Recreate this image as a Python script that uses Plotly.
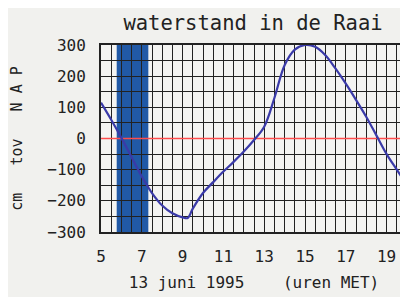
import plotly.graph_objects as go

hours = [5, 5.5, 6, 6.5, 7, 7.5, 8, 8.5, 9, 9.25, 9.5, 10, 10.5, 11, 11.5, 12, 12.5, 13, 13.5, 14, 14.5, 15, 15.5, 16, 16.5, 17, 17.5, 18, 18.5, 19, 19.5, 20]
level = [115, 60, 2, -60, -122, -175, -215, -240, -253, -255, -225, -175, -140, -106, -75, -42, -5, 38, 130, 235, 285, 300, 294, 267, 224, 176, 124, 70, 10, -50, -100, -149]
band = [5.77, 7.32]

font = "DejaVu Sans Mono"
fig = go.Figure()
fig.add_trace(go.Scatter(x=hours, y=level, mode="lines", line=dict(color="#3a3aa8", width=2.2, shape="spline"), showlegend=False))
fig.add_shape(type="rect", x0=band[0], x1=band[1], y0=-300, y1=300, xref="x", yref="y",
              fillcolor="#2159a6", line_width=0, layer="below")
fig.add_shape(type="line", x0=5, x1=20, y0=0, y1=0, xref="x", yref="y",
              line=dict(color="#ff4d4d", width=1.5), layer="between")

# page body has an 8px margin, so the figure is offset by 8px
fig.update_layout(
    width=400, height=289,
    margin=dict(l=93, r=1, t=37, b=65),
    paper_bgcolor="#f1f1ee", plot_bgcolor="#f4f4f2",
    title=dict(text="waterstand in de Raai", x=0.6125, xanchor="center", y=0.95, yanchor="middle",
               font=dict(family=font, size=20.5, color="#222")),
    font=dict(family=font, size=16, color="#222"),
)
fig.update_xaxes(range=[5, 20], tickmode="linear", tick0=5, dtick=2, automargin=False,
                 showgrid=True, gridcolor="#222", gridwidth=1.3,
                 minor=dict(dtick=0.5, tick0=5, showgrid=True, gridcolor="#222", gridwidth=1.3),
                 showline=True, linecolor="#222", linewidth=2, mirror=True, zeroline=False,
                 ticks="", ticklen=0, ticklabelstandoff=9,
                 title=dict(text="13 juni 1995    (uren MET)", standoff=12, font=dict(size=16)),
                 tickfont=dict(size=16))
fig.update_yaxes(range=[-300, 300], tickmode="linear", tick0=0, dtick=100, automargin=False,
                 showgrid=True, gridcolor="#222", gridwidth=1.3,
                 minor=dict(dtick=50, tick0=0, showgrid=True, gridcolor="#222", gridwidth=1.3),
                 showline=True, linecolor="#222", linewidth=2, mirror=True, zeroline=False,
                 ticks="", ticklen=0, ticklabelstandoff=10,
                 title=dict(text="cm   tov   N A P", standoff=31, font=dict(size=15)),
                 tickfont=dict(size=16))
fig.write_html("out.html")
